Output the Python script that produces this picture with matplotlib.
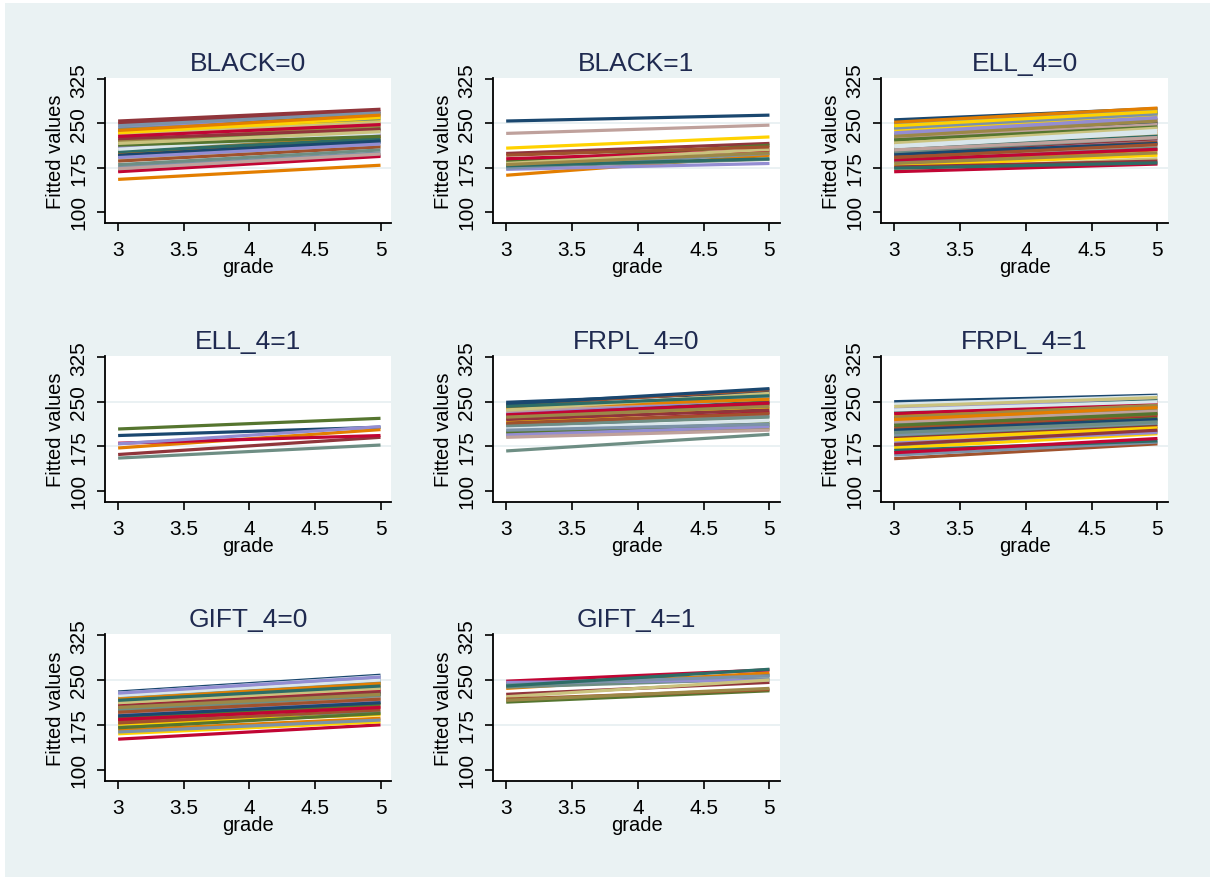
import matplotlib
matplotlib.use('Agg')
import matplotlib.pyplot as plt
from matplotlib.patches import Rectangle

plt.rcParams['font.family'] = ['Liberation Sans', 'DejaVu Sans']

# fitted values at grade 3 and grade 5, one entry per student line
titles = ['BLACK=0', 'BLACK=1', 'ELL_4=0', 'ELL_4=1', 'FRPL_4=0', 'FRPL_4=1', 'GIFT_4=0', 'GIFT_4=1']

black0_g3 = [215, 254, 198, 155, 170, 208, 244, 190, 222, 176, 236, 204, 212, 232, 226, 194, 250, 218, 200,
             240, 168, 210, 230, 186, 246, 202, 220, 173, 234, 206, 196, 224, 213, 238, 180, 228, 192, 216]
black0_g5 = [238, 274, 222, 179, 196, 230, 262, 212, 250, 200, 266, 228, 236, 256, 244, 218, 270, 242, 226,
             258, 194, 232, 252, 210, 268, 224, 246, 198, 260, 234, 220, 240, 228, 264, 205, 248, 215, 236]

black1_g3 = [254, 199, 185, 162, 176, 190, 172, 182, 196, 174, 178, 180, 233, 208]
black1_g5 = [264, 216, 213, 196, 189, 204, 182, 206, 210, 199, 190, 200, 247, 227]

ell0_g3 = [256, 228, 204, 185, 240, 214, 196, 172, 232, 220, 250, 208, 190, 178, 236, 224, 200, 244, 212, 186,
           168, 230, 218, 194, 248, 206, 182, 226, 238, 210, 198, 176, 222, 252, 202, 188, 234, 216, 192, 242,
           174, 228, 205, 246, 212]
ell0_g5 = [275, 252, 232, 205, 266, 238, 222, 190, 258, 246, 270, 230, 212, 196, 262, 250, 224, 268, 236, 208,
           181, 256, 240, 218, 272, 228, 200, 248, 264, 234, 216, 186, 244, 276, 226, 206, 260, 242, 214, 266,
           183, 254, 226, 270, 238]

ell1_g3 = [193, 161, 204, 172, 155, 180, 179]
ell1_g5 = [207, 190, 222, 203, 177, 193, 208]

frpl0_g3 = [249, 222, 200, 238, 167, 212, 230, 196, 244, 208, 226, 192, 234, 216, 204, 246, 220, 198, 240, 210,
            228, 194, 236, 214, 202, 242, 224, 190]
frpl0_g5 = [266, 246, 215, 262, 195, 232, 256, 206, 270, 226, 250, 204, 258, 240, 218, 272, 236, 210, 254, 224,
            248, 208, 264, 230, 212, 260, 242, 202]

frpl1_g3 = [250, 212, 190, 226, 176, 204, 238, 184, 154, 160, 232, 196, 208, 172, 246, 222, 188, 200, 218, 214,
            230, 180, 242, 206, 194, 168, 224, 216, 186, 236, 202, 178, 210, 220, 198, 164]
frpl1_g5 = [261, 232, 212, 246, 200, 226, 255, 204, 179, 182, 252, 218, 230, 196, 259, 242, 208, 222, 238, 236,
            248, 198, 257, 228, 214, 184, 244, 234, 206, 250, 220, 202, 230, 240, 216, 188]

gift0_g3 = [230, 204, 188, 216, 172, 151, 224, 210, 182, 198, 220, 194, 206, 176, 228, 200, 214, 186, 166, 222,
            208, 192, 218, 178, 226, 202, 212, 196, 160, 224, 190, 206, 170, 218, 200, 184, 228, 212, 196, 163,
            216, 204]
gift0_g5 = [258, 230, 212, 244, 196, 175, 252, 236, 206, 222, 246, 218, 232, 192, 256, 226, 240, 210, 186, 248,
            234, 214, 242, 200, 254, 228, 238, 220, 180, 250, 212, 230, 194, 244, 224, 204, 255, 236, 218, 183,
            240, 226]

gift1_g3 = [244, 226, 213, 236, 238, 248, 246, 222, 218, 242, 240, 216]
gift1_g5 = [258, 246, 232, 262, 252, 267, 250, 250, 234, 257, 268, 236]

grades = [3, 5]
x_ticks = [3, 3.5, 4, 4.5, 5]
x_tick_labels = ['3', '3.5', '4', '4.5', '5']
y_ticks = [100, 175, 250, 325]

# stata s2color
palette = ['#1A476F', '#90353B', '#55752F', '#E37E00', '#6E8E84', '#C10534', '#938DD2', '#CAC27E',
           '#A0522D', '#7B92A8', '#2D6D66', '#9C8847', '#BFA19C', '#FFD200', '#D9E6EB']

panels = [(black0_g3, black0_g5), (black1_g3, black1_g5), (ell0_g3, ell0_g5), (ell1_g3, ell1_g5),
          (frpl0_g3, frpl0_g5), (frpl1_g3, frpl1_g5), (gift0_g3, gift0_g5), (gift1_g3, gift1_g5)]

W, H = 1210, 878
fig = plt.figure(figsize=(W / 100, H / 100), dpi=100, facecolor='white')
fig.patches.append(Rectangle((5 / W, 0), 1, 1 - 4 / H, transform=fig.transFigure,
                             facecolor='#EAF2F3', edgecolor='none', zorder=-10))

col_left = [105, 493, 881]
col_w = [286, 287, 287]
row_top = [79, 357, 635]
row_h = [145, 146, 147]

title_color = '#1F2A50'

for i, (title, (g3, g5)) in enumerate(zip(titles, panels)):
    r, c = divmod(i, 3)
    ax = fig.add_axes([col_left[c] / W, 1 - (row_top[r] + row_h[r]) / H, col_w[c] / W, row_h[r] / H])
    ax.set_facecolor('white')
    for yv in [175, 250]:
        ax.axhline(yv, color='#E6EFF1', lw=1.2, zorder=0)
    for k, (a, b) in enumerate(zip(g3, g5)):
        ax.plot(grades, [a, b], color=palette[k % len(palette)], lw=2.3, solid_capstyle='butt')
    ax.set_xlim(2.9, 5.08)
    ax.set_ylim(81, 327)
    ax.set_xticks(x_ticks)
    ax.set_xticklabels(x_tick_labels)
    ax.set_yticks(y_ticks)
    ax.set_yticklabels([str(v) for v in y_ticks], rotation=90, va='center')
    for s in ['top', 'right']:
        ax.spines[s].set_visible(False)
    for s in ['left', 'bottom']:
        ax.spines[s].set_linewidth(1.3)
    ax.tick_params(direction='out', length=6, width=1.2, labelsize=15, pad=6)
    ax.tick_params(axis='y', pad=6)
    ax.set_xlabel('grade', fontsize=14.5, labelpad=-1)
    ax.set_ylabel('Fitted values', fontsize=14.5, labelpad=3)
    ax.set_title(title, fontsize=19, color=title_color, pad=6)

fig.savefig('out.png', dpi=100, facecolor=fig.get_facecolor())
